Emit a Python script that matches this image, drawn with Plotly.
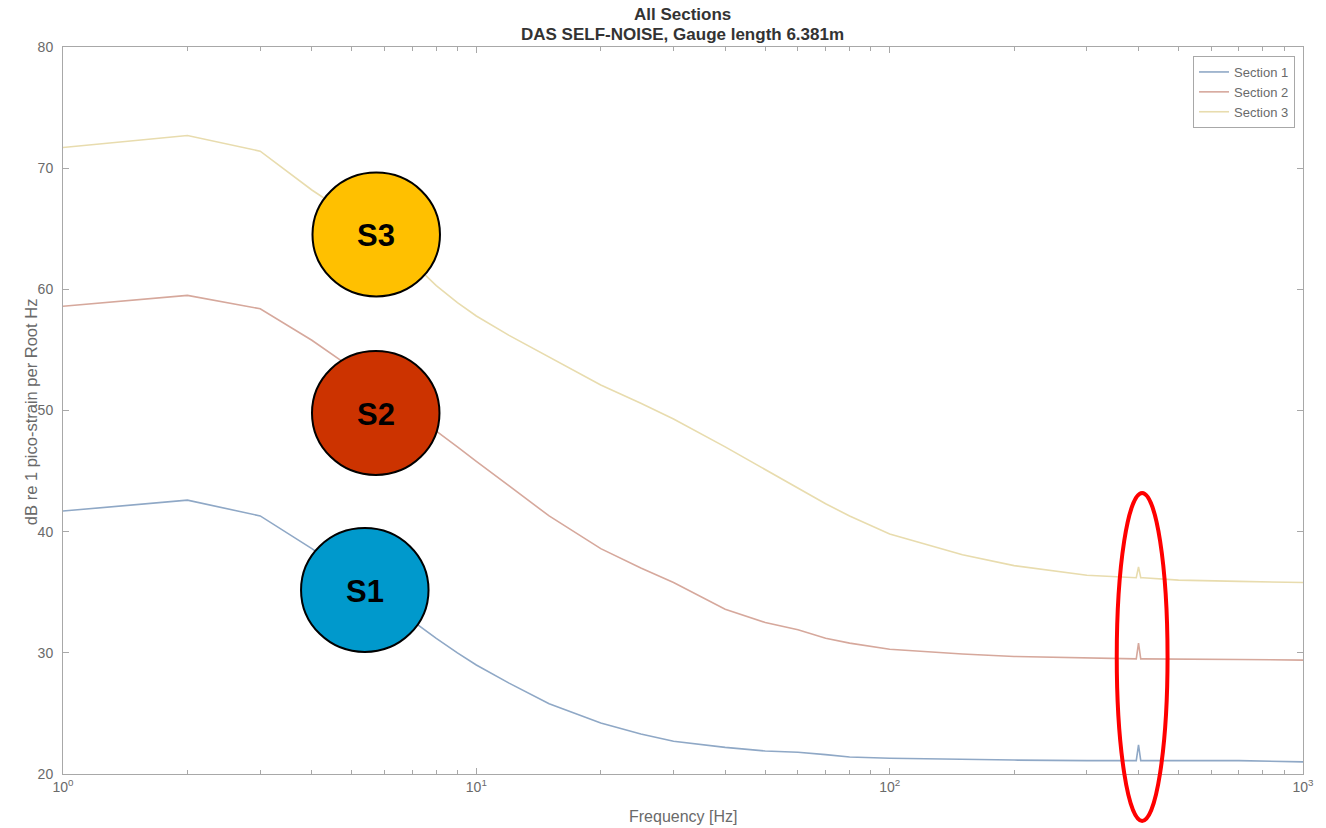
import plotly.graph_objects as go

# Frequency grid (Hz) shared by the three sections
freq_hz = [1, 2, 3, 4, 5, 6, 7, 8, 9, 10, 12, 15, 20, 25, 30, 40, 50, 60, 70, 80,
           100, 150, 200, 300, 390, 395, 400, 405, 410, 500, 700, 1000]

# Self-noise levels, dB re 1 pico-strain per root Hz
section_1 = [41.7, 42.6, 41.3, 38.6, 36.3, 34.3, 32.6, 31.2, 30.0, 29.0, 27.5, 25.8,
             24.2, 23.3, 22.7, 22.2, 21.9, 21.8, 21.6, 21.4, 21.3, 21.2, 21.15, 21.1,
             21.1, 21.1, 22.4, 21.1, 21.1, 21.1, 21.1, 21.0]
section_2 = [58.6, 59.5, 58.4, 55.8, 53.5, 51.5, 49.8, 48.3, 47.0, 45.8, 43.8, 41.3,
             38.6, 37.0, 35.8, 33.6, 32.5, 31.9, 31.2, 30.8, 30.3, 29.9, 29.7, 29.55,
             29.5, 29.5, 30.8, 29.5, 29.5, 29.5, 29.45, 29.4]
section_3 = [71.7, 72.7, 71.4, 68.2, 66.0, 64.0, 62.2, 60.3, 58.9, 57.8, 56.2, 54.4,
             52.1, 50.6, 49.3, 47.0, 45.1, 43.6, 42.3, 41.3, 39.8, 38.1, 37.2, 36.4,
             36.2, 36.2, 37.1, 36.2, 36.2, 36.0, 35.9, 35.8]

series_names = ["Section 1", "Section 2", "Section 3"]
series_colors = ["#8fa8c6", "#d6a89c", "#e8dcae"]

y_ticks = [20, 30, 40, 50, 60, 70, 80]
x_tick_vals = [1, 10, 100, 1000]
x_tick_text = ["10<sup>0</sup>", "10<sup>1</sup>", "10<sup>2</sup>", "10<sup>3</sup>"]
x_minor_vals = [m * d for d in (1, 10, 100) for m in range(2, 10)]

W, H = 1326, 828
L, R, T, B = 63, 18, 47, 54
pw, ph = W - L - R, H - T - B

FONT = "Liberation Sans, Arial, sans-serif"


def px(x):
    return (x - L) / pw


def py(y):
    return (H - B - y) / ph


fig = go.Figure()
for name, vals, col in zip(series_names, [section_1, section_2, section_3], series_colors):
    fig.add_trace(go.Scatter(x=freq_hz, y=vals, mode="lines", name=name,
                             line=dict(color=col, width=1.6)))

axis_col = "#a8a8a8"
tick_font = dict(family=FONT, size=14, color="#6a6a6a")

fig.update_xaxes(type="log", range=[0, 3], tickvals=x_tick_vals, ticktext=x_tick_text,
                 ticks="inside", ticklen=6, tickcolor=axis_col, showline=True,
                 linecolor=axis_col, linewidth=1, mirror="allticks", showgrid=False,
                 zeroline=False, tickfont=tick_font,
                 minor=dict(tickvals=x_minor_vals, ticks="inside", ticklen=4,
                            tickcolor=axis_col, showgrid=False))
fig.update_yaxes(range=[20, 80], tickvals=y_ticks, ticks="inside", ticklen=6,
                 tickcolor=axis_col, showline=True, linecolor=axis_col, linewidth=1,
                 mirror="allticks", showgrid=False, zeroline=False, tickfont=tick_font,
                 ticklabelstandoff=6)


def note(text, x, y, size, color, angle=0):
    return dict(text=text, xref="paper", yref="paper", x=px(x), y=py(y),
                xanchor="center", yanchor="middle", showarrow=False, textangle=angle,
                font=dict(family=FONT, size=size, color=color))


shapes = []
annotations = []
# Section markers
for label, cx, cy, fill in [("S3", 377.5, 234.5, "#ffc000"),
                            ("S2", 377, 413, "#cc3300"),
                            ("S1", 366, 590, "#0099cc")]:
    shapes.append(dict(type="circle", xref="paper", yref="paper",
                       x0=px(cx - 64), x1=px(cx + 64), y0=py(cy + 62), y1=py(cy - 62),
                       fillcolor=fill, line=dict(color="black", width=2), layer="above"))
    annotations.append(note("<b>%s</b>" % label, cx, cy + 1, 31, "black"))

# Highlight around the 400 Hz line
shapes.append(dict(type="circle", xref="paper", yref="paper",
                   x0=px(1121), x1=px(1172), y0=py(821), y1=py(493),
                   line=dict(color="#ff0000", width=4), layer="above"))

annotations.append(note("<b>All Sections</b>", 685, 14, 17, "#333333"))
annotations.append(note("<b>DAS SELF-NOISE, Gauge length 6.381m</b>", 685, 34, 17, "#333333"))
annotations.append(note("dB re 1 pico-strain per Root Hz", 31, 412, 16.5, "#6a6a6a", -90))
annotations.append(note("Frequency [Hz]", 685, 816, 16, "#6a6a6a"))

fig.update_layout(
    width=W, height=H,
    margin=dict(l=L, r=R, t=T, b=B),
    paper_bgcolor="white", plot_bgcolor="white",
    shapes=shapes, annotations=annotations,
    showlegend=True,
    legend=dict(x=px(1300), y=py(56), xanchor="right", yanchor="top",
                bgcolor="white", bordercolor=axis_col, borderwidth=1,
                font=dict(family=FONT, size=13, color="#6a6a6a"),
                tracegroupgap=0, itemwidth=30),
)

fig.write_html("out.html")
